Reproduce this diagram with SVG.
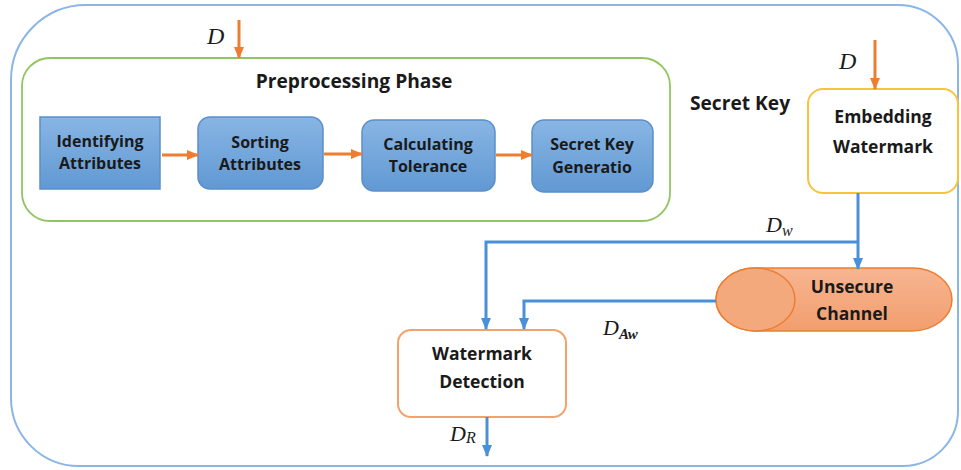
<svg xmlns="http://www.w3.org/2000/svg" width="961" height="470" viewBox="0 0 961 470">
<style>
.lbl{font-family:"Open Sans","Liberation Sans",sans-serif;font-weight:700;fill:#1a1a1a;text-anchor:middle}
.s16{font-size:16px}
.s18{font-size:17.5px}
.s19{font-size:19.2px}
.math{font-family:"Liberation Serif","DejaVu Serif",serif;font-style:italic;fill:#1a1a1a}
.bbox{fill:url(#blueGrad);stroke:#5B8FCB;stroke-width:1.5}
.oc{fill:none;stroke:#ED7D31;stroke-width:3}
.bc{fill:none;stroke:#4A90D9;stroke-width:3}
</style>
<defs>
<linearGradient id="blueGrad" x1="0" y1="0" x2="0" y2="1">
<stop offset="0" stop-color="#88B5E4"/>
<stop offset="1" stop-color="#6199D3"/>
</linearGradient>
<linearGradient id="cylGrad" x1="0" y1="0" x2="0" y2="1">
<stop offset="0" stop-color="#F7B591"/>
<stop offset="1" stop-color="#F29E6E"/>
</linearGradient>
<marker id="ao" markerUnits="userSpaceOnUse" markerWidth="12" markerHeight="10" refX="11" refY="5" orient="auto">
<path d="M0,0 L12,5 L0,10 z" fill="#ED7D31"/>
</marker>
<marker id="ab" markerUnits="userSpaceOnUse" markerWidth="12" markerHeight="10" refX="11" refY="5" orient="auto">
<path d="M0,0 L12,5 L0,10 z" fill="#4A90D9"/>
</marker>
</defs>

<g id="frame">
<path d="M86,5 H898 A60,60 0 0 1 958,65 V411 A55,55 0 0 1 903,466 H79 A68,68 0 0 1 11,398 V80 A75,75 0 0 1 86,5 Z" fill="none" stroke="#8AB6E6" stroke-width="2"/>
</g>

<g id="preprocessing">
<rect x="22" y="58" width="648" height="163" rx="28" fill="none" stroke="#92C560" stroke-width="1.8"/>
<text class="lbl s19" x="354" y="88">Preprocessing Phase</text>
</g>

<g id="identifying">
<rect class="bbox" x="40" y="117" width="120" height="72"/>
<text class="lbl s16" x="100" y="147">Identifying</text>
<text class="lbl s16" x="100" y="169">Attributes</text>
</g>

<g id="sorting">
<rect class="bbox" x="198" y="117" width="125" height="72" rx="12"/>
<text class="lbl s16" x="260" y="148">Sorting</text>
<text class="lbl s16" x="260" y="170">Attributes</text>
</g>

<g id="calculating">
<rect class="bbox" x="362" y="120" width="133" height="71" rx="12"/>
<text class="lbl s16" x="428" y="150">Calculating</text>
<text class="lbl s16" x="428" y="172">Tolerance</text>
</g>

<g id="secretkeygen">
<rect class="bbox" x="532" y="120" width="121" height="72" rx="12"/>
<text class="lbl s16" x="592" y="150">Secret Key</text>
<text class="lbl s16" x="592" y="173">Generatio</text>
</g>

<g id="secretkey">
<text class="lbl s19" x="740" y="110">Secret Key</text>
</g>

<g id="embedding">
<rect x="808" y="89" width="150" height="104" rx="15" fill="#fff" stroke="#FBC23C" stroke-width="2"/>
<text class="lbl s18" x="883" y="123">Embedding</text>
<text class="lbl s18" x="883" y="153">Watermark</text>
</g>

<g id="channel">
<path d="M755.5,268 H912 A40,31.5 0 0 1 912,331 H755.5 A39.5,31.5 0 0 1 755.5,268 Z" fill="url(#cylGrad)" stroke="#ED7D31" stroke-width="1.5"/>
<ellipse cx="755.5" cy="299.5" rx="39.5" ry="31.5" fill="#F4A97C" stroke="#ED7D31" stroke-width="1.5"/>
<text class="lbl s18" x="852" y="293">Unsecure</text>
<text class="lbl s18" x="852" y="320">Channel</text>
</g>

<g id="detection">
<rect x="398" y="330" width="168" height="87" rx="13" fill="#fff" stroke="#F4A26B" stroke-width="2"/>
<text class="lbl s18" x="482" y="360">Watermark</text>
<text class="lbl s18" x="482" y="388">Detection</text>
</g>

<g id="connectors">
<line class="oc" x1="239" y1="20" x2="239" y2="58" marker-end="url(#ao)"/>
<line class="oc" x1="875" y1="40" x2="875" y2="89" marker-end="url(#ao)"/>
<line class="oc" x1="162" y1="155" x2="198" y2="155" marker-end="url(#ao)"/>
<line class="oc" x1="324" y1="154" x2="362" y2="154" marker-end="url(#ao)"/>
<line class="oc" x1="496" y1="155" x2="532" y2="155" marker-end="url(#ao)"/>
<path class="bc" d="M858,193 V269" marker-end="url(#ab)"/>
<path class="bc" d="M858,242 H486 V329" marker-end="url(#ab)"/>
<path class="bc" d="M716,301 H524 V329" marker-end="url(#ab)"/>
<path class="bc" d="M487,417 V456" marker-end="url(#ab)"/>
</g>

<g id="labels">
<text class="math" x="207" y="44" font-size="24">D</text>
<text class="math" x="839" y="69" font-size="24">D</text>
<text class="math" x="766" y="232" font-size="22">D<tspan font-size="16" dy="4">w</tspan></text>
<text class="math" x="603" y="335" font-size="22">D<tspan font-size="15" dy="4" font-weight="bold">Aw</tspan></text>
<text class="math" x="450" y="441" font-size="22">D<tspan font-size="16" dy="2">R</tspan></text>
</g>
</svg>
